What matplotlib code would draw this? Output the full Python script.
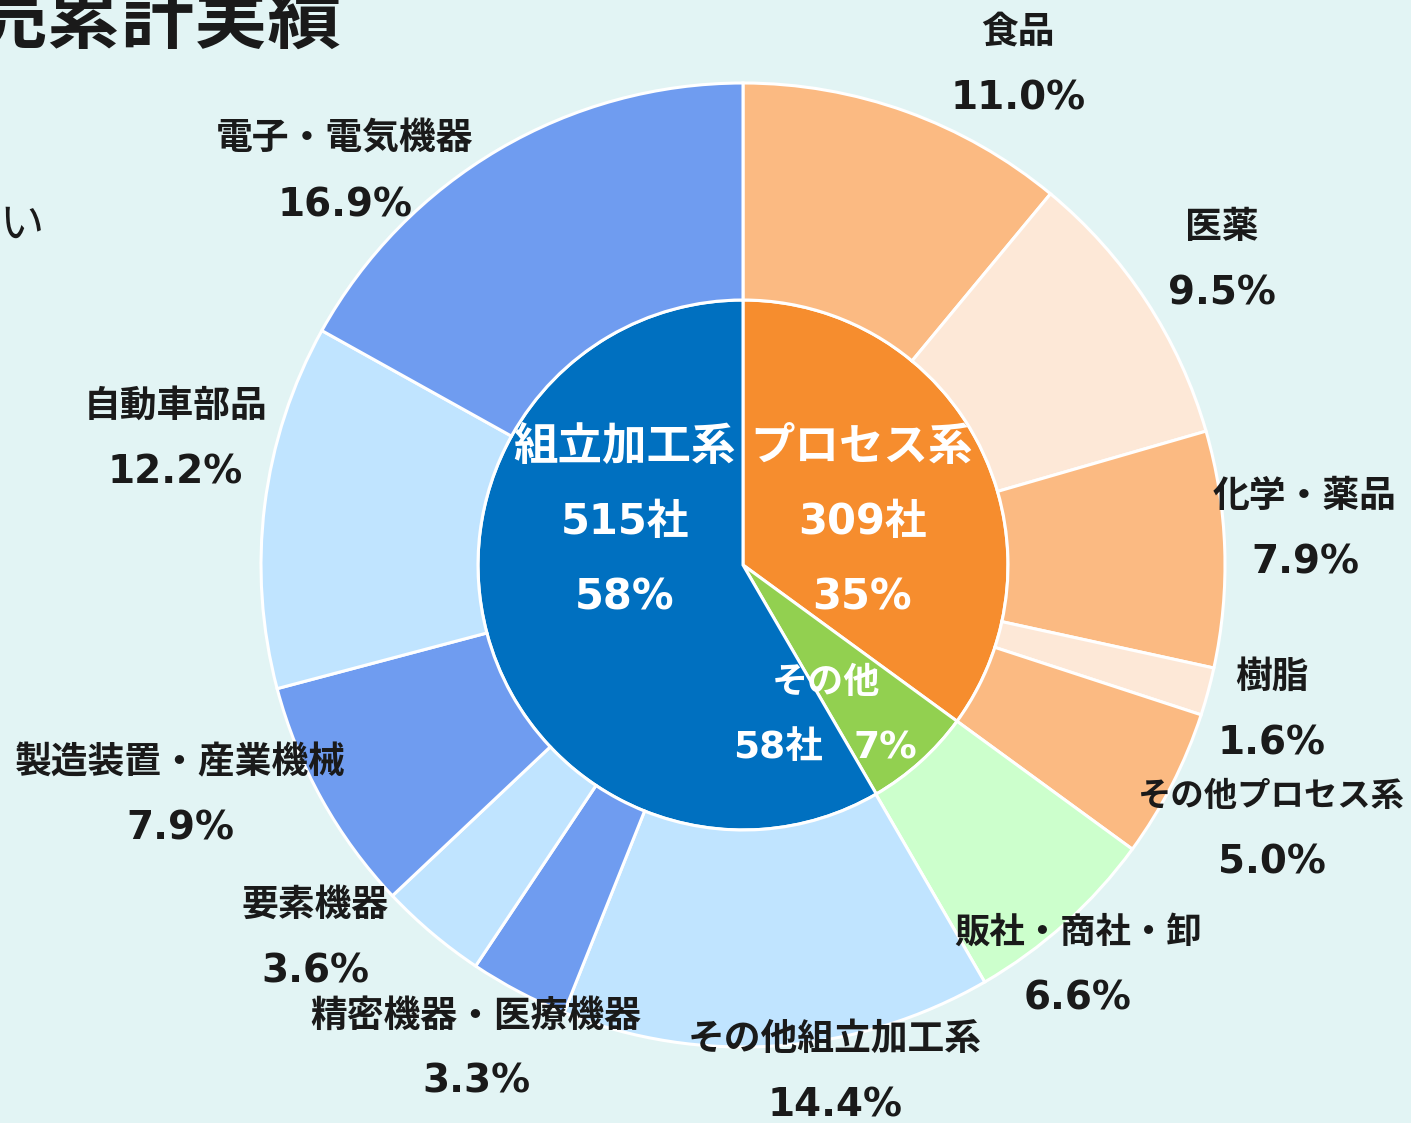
import matplotlib.pyplot as plt

# inner ring: groups (companies)
group_names = ['プロセス系', 'その他', '組立加工系']
group_counts = [309, 58, 515]
group_pcts = ['35%', '7%', '58%']
group_colors = ['#F68D2E', '#92D050', '#0070C0']

# outer ring: industries (% of companies), clockwise from 12 o'clock
ind_names = ['食品', '医薬', '化学・薬品', '樹脂', 'その他プロセス系',
             '販社・商社・卸',
             'その他組立加工系', '精密機器・医療機器', '要素機器',
             '製造装置・産業機械', '自動車部品', '電子・電気機器']
ind_pcts = [11.0, 9.5, 7.9, 1.6, 5.0,
            6.6,
            14.4, 3.3, 3.6, 7.9, 12.2, 16.9]
ind_colors = ['#FBBA82', '#FDE8D7', '#FBBA82', '#FDE8D7', '#FBBA82',
              '#CCFFCC',
              '#C0E4FF', '#6F9CF0', '#C0E4FF', '#6F9CF0', '#C0E4FF', '#6F9CF0']

# label centres (x, y) in units of the outer radius
label_pos = [(0.571, 1.037), (0.994, 0.631), (1.166, 0.073), (1.097, -0.301),
             (1.097, -0.548), (0.695, -0.830), (0.191, -1.052), (-0.554, -1.004),
             (-0.888, -0.774), (-1.168, -0.479), (-1.178, 0.261), (-0.826, 0.815)]
# long labels near the edge get a smaller font
name_size = {'その他プロセス系': 24, '販社・商社・卸': 25.5}

JP = ['Noto Sans CJK JP', 'DejaVu Sans']
NUM = ['DejaVu Sans', 'Noto Sans CJK JP']
bg = '#E2F4F4'
txt = '#1a1a1a'

fig = plt.figure(figsize=(14.11, 11.23), dpi=100, facecolor=bg)
ax = fig.add_axes([0, 0, 1, 1])
ax.set_facecolor(bg)

r_in = 265 / 482
ax.pie(group_counts, radius=r_in, colors=group_colors, startangle=90,
       counterclock=False, wedgeprops=dict(edgecolor='white', linewidth=2.2))
ax.pie(ind_pcts, radius=1.0, colors=ind_colors, startangle=90,
       counterclock=False,
       wedgeprops=dict(width=1 - r_in, edgecolor='white', linewidth=2.2))

ax.set_xlim(-743 / 482, 668 / 482)
ax.set_ylim(-558 / 482, 565 / 482)
ax.set_aspect('equal')
ax.axis('off')

# outer labels
dy = 33 / 482
for name, pct, (x, y) in zip(ind_names, ind_pcts, label_pos):
    ax.text(x, y + dy, name, ha='center', va='center',
            fontsize=name_size.get(name, 26.5),
            fontweight='bold', family=JP, color=txt)
    ax.text(x, y - dy, f'{pct:.1f}%', ha='center', va='center', fontsize=28,
            fontweight='bold', family=NUM, color=txt)

# inner labels
step = 75 / 482
for name, cnt, pct, x in [(group_names[2], group_counts[2], group_pcts[2], -0.245),
                          (group_names[0], group_counts[0], group_pcts[0], 0.247)]:
    y = 0.089
    ax.text(x, y + step, name, ha='center', va='center', fontsize=32,
            fontweight='bold', family=JP, color='white')
    ax.text(x, y, f'{cnt}社', ha='center', va='center', fontsize=30,
            fontweight='bold', family=NUM, color='white')
    ax.text(x, y - step, pct, ha='center', va='center', fontsize=30,
            fontweight='bold', family=NUM, color='white')

ax.text(0.172, -0.243, group_names[1], ha='center', va='center', fontsize=26,
        fontweight='bold', family=JP, color='white')
ax.text(0.073, -0.380, f'{group_counts[1]}社', ha='center', va='center',
        fontsize=27, fontweight='bold', family=NUM, color='white')
ax.text(0.295, -0.380, group_pcts[1], ha='center', va='center', fontsize=27,
        fontweight='bold', family=NUM, color='white')

# fragments of the slide around the chart (cut off in the original too)
fig.text(342 / 1411, 1 - 20 / 1123, '売累計実績', ha='right', va='center',
         fontsize=53, fontweight='bold', family=JP, color=txt)
fig.text(44 / 1411, 1 - 225 / 1123, 'い', ha='right', va='center',
         fontsize=32, family=JP, color=txt)

fig.savefig('out.png', dpi=100, facecolor=bg)
